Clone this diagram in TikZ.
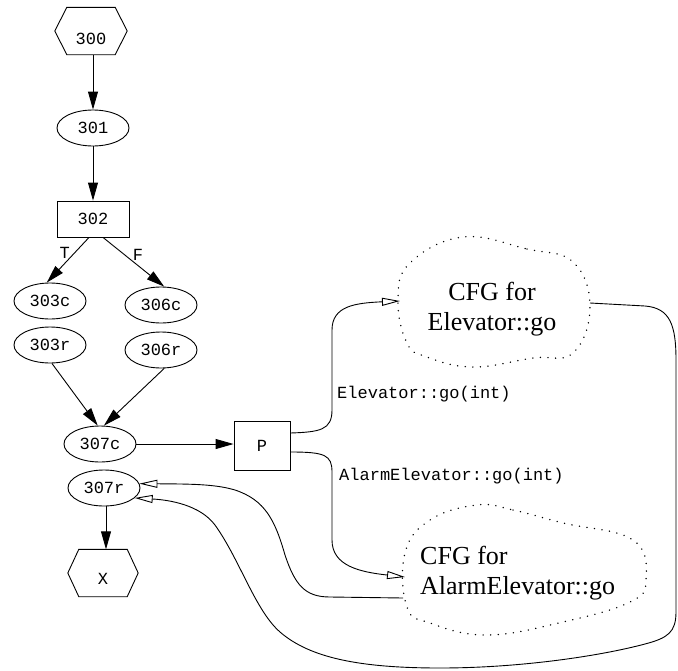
\documentclass[tikz,border=0pt]{standalone}
\usepackage{fontspec}
\setmainfont{Liberation Serif}
\setmonofont{Liberation Mono}
\usetikzlibrary{shapes.geometric,arrows.meta}

\tikzset{
  lw/.style={line width=0.9pt},
  codefont/.style={font=\ttfamily\fontsize{17}{20}\selectfont},
  oval/.style={lw, draw, ellipse, inner sep=0pt, minimum width=72pt, minimum height=36pt, codefont},
  box/.style={lw, draw, rectangle, inner sep=0pt, codefont},
  hexcore/.style={rectangle, inner sep=0pt, minimum width=48pt, minimum height=47pt,
                  text height=26pt, text depth=0pt, codefont},
  hexline/.style={lw, line join=miter},
  flow/.style={lw, -{Triangle[length=18pt,width=10pt]}},
  ret/.style={lw, -{Triangle[open,length=18pt,width=8pt]}},
  blob/.style={line width=1.5pt, line cap=round, dash pattern=on 0.1pt off 7.5pt},
  cfgtext/.style={inner sep=0pt, font=\fontsize{26}{30}\selectfont},
  lbl/.style={inner sep=0pt, codefont}
}

\begin{document}
\begin{tikzpicture}[x=1pt, y=-1pt]
  \useasboundingbox (0,0) rectangle (678,670);

  % entry and exit hexagons
  \node[hexcore] (n300) at (91,31) {300};
  \draw[hexline] (n300.north west) -- (n300.north east) -- ([xshift=12pt]n300.east)
    -- (n300.south east) -- (n300.south west) -- ([xshift=-12pt]n300.west) -- cycle;
  \node[hexcore, text height=23pt] (nX) at (103,573) {X};
  \draw[hexline] (nX.north west) -- (nX.north east) -- ([xshift=11pt]nX.east)
    -- (nX.south east) -- (nX.south west) -- ([xshift=-11pt]nX.west) -- cycle;

  % control-flow nodes
  \node[oval] (n301) at (93,128) {301};
  \node[box, minimum width=72pt, minimum height=36pt] (n302) at (93,219) {302};
  \node[oval] (n303c) at (50,301) {303c};
  \node[oval] (n306c) at (161,305) {306c};
  \node[oval] (n303r) at (50,345) {303r};
  \node[oval] (n306r) at (161,350) {306r};
  \node[oval] (n307c) at (100,444) {307c};
  \node[oval] (n307r) at (104,488) {307r};
  \node[box, minimum width=56pt, minimum height=49pt] (nP) at (262,446) {P};

  % dynamically bound callees
  \draw[blob] plot[smooth cycle, tension=0.7] coordinates {
    (463,237) (527,249) (573,262) (590,307) (573,353) (533,358)
    (473,367) (427,357) (407,343) (398,300) (410,263)};
  \node[cfgtext, align=center] (cfgA) at (492,309) {CFG for\\Elevator::go};
  \draw[blob] plot[smooth cycle, tension=0.7] coordinates {
    (477,505) (513,510) (563,523) (633,540) (646,580) (630,602) (563,622)
    (487,635) (430,623) (407,607) (405,553) (430,520)};
  \node[cfgtext, align=left, anchor=west] (cfgB) at (420,573) {CFG for\\AlarmElevator::go};

  \coordinate (a-in)  at (400,301);
  \coordinate (a-out) at (590,303);
  \coordinate (b-in)  at (405,577);
  \coordinate (b-out) at (403,598);

  % intraprocedural edges
  \draw[flow] (n300.south -| n301.north) -- (n301.north);
  \draw[flow] (n301) -- (n302);
  \draw[flow] ([xshift=-4pt]n302.south) -- node[lbl, pos=0.35, left=4pt] {T} (n303c.100);
  \draw[flow] ([xshift=10pt]n302.south) -- node[lbl, pos=0.35, right=8pt] {F} (n306c.80);
  \draw[flow] (n303r.-84) -- (n307c.97);
  \draw[flow] (n306r.-80) -- (n307c.78);
  \draw[flow] (n307c.east) -- (n307c.east -| nP.west);
  \draw[flow] ([xshift=2pt]n307r.south) -- ([xshift=2pt]n307r.south |- nX.north);

  % call edges
  \draw[ret] ([yshift=13pt]nP.east) .. controls (320,432) and (332,430) .. (332,410)
    -- (332,330) .. controls (332,306) and (355,303) .. (a-in);
  \draw[ret] ([yshift=-6pt]nP.east) .. controls (325,452) and (332,455) .. (332,472)
    -- (332,540) .. controls (332,566) and (360,572) .. (b-in);
  \node[lbl, anchor=west] (lA) at (337,394) {Elevator::go(int)};
  \node[lbl, anchor=west] (lB) at (339,476) {AlarmElevator::go(int)};

  % return edges
  \draw[ret] (a-out) -- (645,306) .. controls (670,308) and (676,325) .. (676,360)
    -- (676,612) .. controls (676,632) and (668,638) .. (645,644)
    .. controls (600,656) and (520,668) .. (440,668)
    .. controls (360,668) and (310,658) .. (280,632)
    .. controls (255,610) and (240,560) .. (215,525)
    .. controls (200,505) and (170,500) .. (n307r.-18);
  \draw[ret] (b-out) -- (330,597) .. controls (305,597) and (295,585) .. (285,555)
    .. controls (275,520) and (265,500) .. (235,490)
    .. controls (215,484) and (190,484) .. (n307r.7);
\end{tikzpicture}
\end{document}
